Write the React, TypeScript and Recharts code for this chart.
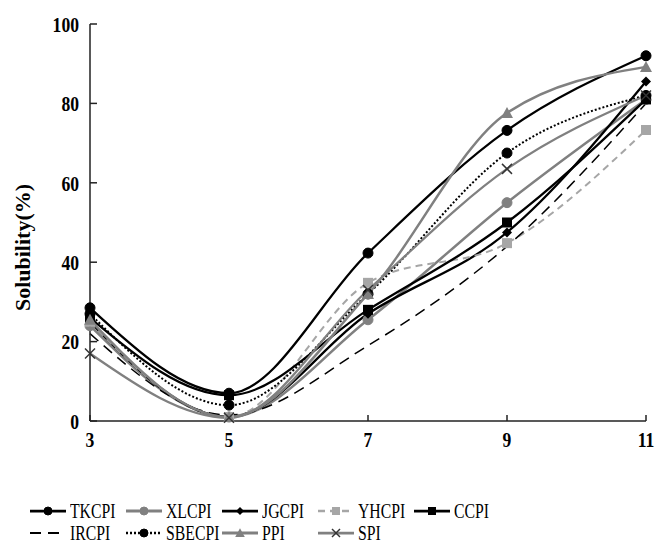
import React from 'react';
import { LineChart, Line, XAxis, YAxis } from 'recharts';

const xValues = [3, 5, 7, 9, 11];
const tkcpi = [28.5, 7, 42.3, 73.2, 92];
const xlcpi = [24, 1, 25.5, 55, 81];
const jgcpi = [25, 1, 27, 47.5, 85.5];
const yhcpi = [25, 1, 34.8, 44.8, 73.3];
const ccpi = [26, 6.5, 28, 50, 81];
const ircpi = [22, 1.5, 19, 44, 80];
const sbecpi = [27, 4, 32, 67.5, 82];
const ppi = [25.5, 1, 32, 77.6, 89.2];
const spi = [17, 0.8, 33, 63.5, 82];

const xTicks = [3, 5, 7, 9, 11];
const yTicks = [0, 20, 40, 60, 80, 100];

const BLACK = '#000000';
const GRAY = '#808080';
const LIGHT = '#a6a6a6';
const FONT = '"Liberation Serif", "Times New Roman", serif';

type Shape = 'circle' | 'diamond' | 'square' | 'triangle' | 'cross' | 'none';
interface Series {
  key: string;
  values: number[];
  color: string;
  markerColor: string;
  dash?: string;
  width: number;
  shape: Shape;
}

const series: Series[] = [
  { key: 'TKCPI', values: tkcpi, color: BLACK, markerColor: BLACK, width: 2.25, shape: 'circle' },
  { key: 'XLCPI', values: xlcpi, color: GRAY, markerColor: GRAY, width: 2.5, shape: 'circle' },
  { key: 'JGCPI', values: jgcpi, color: BLACK, markerColor: BLACK, width: 2.25, shape: 'diamond' },
  { key: 'YHCPI', values: yhcpi, color: LIGHT, markerColor: LIGHT, dash: '7 5', width: 2, shape: 'square' },
  { key: 'CCPI', values: ccpi, color: BLACK, markerColor: BLACK, width: 2.25, shape: 'square' },
  { key: 'IRCPI', values: ircpi, color: BLACK, markerColor: BLACK, dash: '11 7', width: 1.5, shape: 'none' },
  { key: 'SBECPI', values: sbecpi, color: BLACK, markerColor: BLACK, dash: '2 2', width: 2, shape: 'circle' },
  { key: 'PPI', values: ppi, color: GRAY, markerColor: GRAY, width: 2.5, shape: 'triangle' },
  { key: 'SPI', values: spi, color: GRAY, markerColor: '#333333', width: 2.25, shape: 'cross' },
];

const data = xValues.map((x, i) => {
  const row: Record<string, number> = { x };
  series.forEach((s) => {
    row[s.key] = s.values[i];
  });
  return row;
});

function Marker({ shape, cx, cy, color, k = 1 }: { shape: Shape; cx: number; cy: number; color: string; k?: number }) {
  const r = 5 * k;
  if (shape === 'circle') return <circle cx={cx} cy={cy} r={r} fill={color} stroke={color} />;
  if (shape === 'square') return <rect x={cx - r} y={cy - r} width={2 * r} height={2 * r} fill={color} />;
  if (shape === 'diamond')
    return <polygon points={`${cx},${cy - r} ${cx + r},${cy} ${cx},${cy + r} ${cx - r},${cy}`} fill={color} />;
  if (shape === 'triangle')
    return (
      <polygon
        points={`${cx},${cy - 6 * k} ${cx + 6 * k},${cy + 5 * k} ${cx - 6 * k},${cy + 5 * k}`}
        fill={color}
      />
    );
  if (shape === 'cross')
    return (
      <g stroke={color} strokeWidth={1.5}>
        <line x1={cx - r} y1={cy - r} x2={cx + r} y2={cy + r} />
        <line x1={cx - r} y1={cy + r} x2={cx + r} y2={cy - r} />
      </g>
    );
  return <g />;
}

const YTick = (props: any) => {
  const { x, y, payload } = props;
  return (
    <g transform={`translate(${x},${y})`}>
      <text
        transform="scale(0.8,1)"
        textAnchor="end"
        dy="0.35em"
        fontFamily={FONT}
        fontWeight="bold"
        fontSize={22}
        fill="#000"
      >
        {payload.value}
      </text>
    </g>
  );
};

const XTick = (props: any) => {
  const { x, y, payload } = props;
  return (
    <g transform={`translate(${x},${y})`}>
      <text
        transform="scale(0.8,1)"
        textAnchor="middle"
        dy="0.71em"
        fontFamily={FONT}
        fontWeight="bold"
        fontSize={22}
        fill="#000"
      >
        {payload.value}
      </text>
    </g>
  );
};

const YLabel = (props: any) => {
  const vb = props.viewBox || { x: 0, y: 24, width: 90, height: 397 };
  const cx = vb.x + 22;
  const cy = vb.y + vb.height / 2 + 25;
  return (
    <text
      x={cx}
      y={cy}
      transform={`rotate(-90, ${cx}, ${cy})`}
      textAnchor="middle"
      dominantBaseline="central"
      fontFamily={FONT}
      fontWeight="bold"
      fontSize={22}
      fill="#000"
    >
      Solubility(%)
    </text>
  );
};

function LegendIcon({ s }: { s: Series }) {
  return (
    <svg width={36} height={14} style={{ display: 'block' }}>
      <line x1={0} y1={7} x2={36} y2={7} stroke={s.color} strokeWidth={s.width + 0.5} strokeDasharray={s.dash} />
      <Marker shape={s.shape} cx={18} cy={7} color={s.markerColor} k={0.8} />
    </svg>
  );
}

export default function App() {
  return (
    <div style={{ position: 'absolute', left: 0, top: 0, width: 656, height: 547, background: '#fff' }}>
      <LineChart width={656} height={547} data={data} margin={{ top: 24, right: 10, bottom: 96, left: 0 }}>
        <XAxis
          dataKey="x"
          type="number"
          domain={[3, 11]}
          ticks={xTicks}
          height={30}
          axisLine={{ stroke: '#222', strokeWidth: 1.5 }}
          tickLine={{ stroke: '#222', strokeWidth: 1.5 }}
          tickSize={-6}
          tickMargin={16}
          tick={<XTick />}
          interval={0}
        />
        <YAxis
          type="number"
          domain={[0, 100]}
          ticks={yTicks}
          width={90}
          axisLine={{ stroke: '#222', strokeWidth: 1.5 }}
          tickLine={{ stroke: '#222', strokeWidth: 1.5 }}
          tickSize={-7}
          tickMargin={18}
          tick={<YTick />}
          interval={0}
          label={<YLabel />}
        />
        {series.map((s) => (
          <Line
            key={s.key}
            dataKey={s.key}
            type="monotone"
            stroke={s.color}
            strokeWidth={s.width}
            strokeDasharray={s.dash}
            isAnimationActive={false}
            dot={(p: any) => (
              <Marker key={`${s.key}-${p.index}`} shape={s.shape} cx={p.cx} cy={p.cy} color={s.markerColor} />
            )}
            activeDot={false}
          />
        ))}
      </LineChart>
      {series.map((s, i) => {
        const col = i < 5 ? i : i - 5;
        const row = i < 5 ? 0 : 1;
        return (
          <div
            key={s.key}
            style={{
              position: 'absolute',
              left: 30 + col * 96,
              top: 501 + row * 22,
              height: 20,
              display: 'flex',
              alignItems: 'center',
            }}
          >
            <LegendIcon s={s} />
            <span
              style={{
                marginLeft: 4,
                fontFamily: FONT,
                fontSize: 21,
                lineHeight: '20px',
                display: 'inline-block',
                transform: 'scale(0.75,1)',
                transformOrigin: 'left center',
                whiteSpace: 'nowrap',
                color: '#000',
              }}
            >
              {s.key}
            </span>
          </div>
        );
      })}
    </div>
  );
}
